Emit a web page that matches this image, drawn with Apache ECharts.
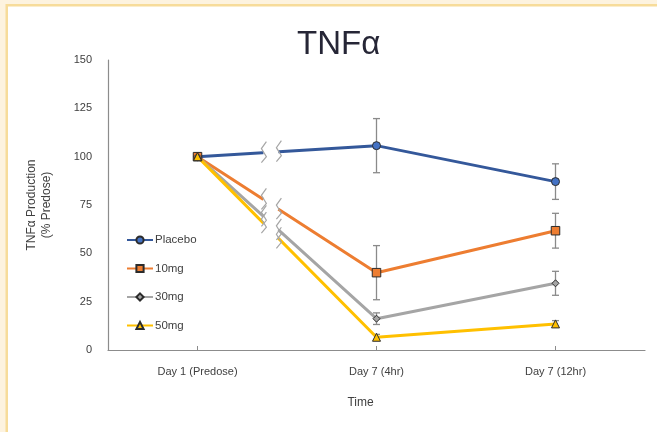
<!DOCTYPE html>
<html>
<head>
<meta charset="utf-8">
<script src="https://cdn.jsdelivr.net/npm/echarts@6/dist/echarts.min.js"></script>
<style>html,body{margin:0;padding:0;background:#fff}#c{width:657px;height:432px}</style>
</head>
<body>
<div id="c"></div>
<script>
const categories = ['Day 1 (Predose)', 'Day 7 (4hr)', 'Day 7 (12hr)'];
const yTicks = [0, 25, 50, 75, 100, 125, 150];
const seriesNames = ['Placebo', '10mg', '30mg', '50mg'];
const placebo = [100, 105.7, 87.1];
const placeboErr = [0, 14, 9.2];
const mg10 = [100, 40.0, 61.7];
const mg10Err = [0, 14, 9];
const mg30 = [100, 16.2, 34.5];
const mg30Err = [0, 3, 6.2];
const mg50 = [100, 6.6, 13.5];
const mg50Err = [0, 1.5, 1.7];

const values = [placebo, mg10, mg30, mg50];
const errs = [placeboErr, mg10Err, mg30Err, mg50Err];
const lineColors = ['#34589a', '#ed7d31', '#a5a5a5', '#ffc000'];
const fillColors = ['#4472c4', '#ed7d31', '#a5a5a5', '#ffc000'];
const symbols = ['circle', 'rect', 'diamond', 'triangle'];
const symbolSizes = [8, 8.5, 7, 8];
const FONT = 'Liberation Sans';

const errData = [];
values.forEach((v, s) => {
  v.forEach((y, i) => {
    if (errs[s][i] > 0) errData.push([i, y - errs[s][i], y + errs[s][i]]);
  });
});

const breakT = 0.41;
function breakPoint(api, s) {
  const v = values[s];
  const p0 = api.coord([0, v[0]]);
  const p1 = api.coord([1, v[1]]);
  return { p0, p1, c: [p0[0] + (p1[0] - p0[0]) * breakT, p0[1] + (p1[1] - p0[1]) * breakT] };
}

const lineSeries = seriesNames.map((name, s) => ({
  name,
  type: 'line',
  data: values[s],
  symbol: symbols[s],
  symbolSize: symbolSizes[s],
  z: 3,
  lineStyle: { color: lineColors[s], width: 3 },
  itemStyle: { color: fillColors[s], borderColor: '#2b2b2b', borderWidth: 1 },
  emphasis: { disabled: true },
  animation: false
}));

const option = {
  animation: false,
  title: {
    text: 'TNFα',
    left: 292,
    top: 23,
    textStyle: { fontFamily: FONT, fontSize: 33, fontWeight: 'normal', color: '#262636' }
  },
  legend: {
    orient: 'vertical',
    left: 121,
    top: 229,
    itemWidth: 26,
    itemHeight: 9,
    itemGap: 16.5,
    data: seriesNames,
    textStyle: { fontFamily: FONT, fontSize: 11.5, color: '#404040', padding: [0, 0, 0, -3] }
  },
  grid: { left: 108, right: 12, top: 60, bottom: 82, containLabel: false },
  xAxis: {
    type: 'category',
    data: categories,
    boundaryGap: true,
    name: 'Time',
    nameLocation: 'middle',
    nameGap: 47,
    nameTextStyle: { fontFamily: FONT, fontSize: 12, color: '#404040', padding: [0, 32, 0, 0] },
    axisLine: { lineStyle: { color: '#8c8c8c', width: 1.2 } },
    axisTick: { show: true, alignWithLabel: true, inside: true, length: 4, lineStyle: { color: '#8c8c8c' } },
    axisLabel: { fontFamily: FONT, fontSize: 11, color: '#404040', margin: 16 },
    splitLine: { show: false }
  },
  yAxis: {
    type: 'value',
    min: 0,
    max: 150,
    interval: 25,
    name: 'TNFα Production\n(% Predose)',
    nameLocation: 'middle',
    nameGap: 54,
    nameTextStyle: { fontFamily: FONT, fontSize: 12, color: '#404040', lineHeight: 15 },
    axisLine: { show: true, lineStyle: { color: '#8c8c8c', width: 1.2 } },
    axisTick: { show: false },
    axisLabel: {
      fontFamily: FONT, fontSize: 11, color: '#404040', margin: 16,
      formatter: v => (yTicks.indexOf(v) >= 0 ? String(v) : '')
    },
    splitLine: { show: false }
  },
  graphic: [
    { type: 'rect', shape: { x: 0, y: 0, width: 657, height: 4 }, style: { fill: '#fdf3df' }, silent: true, z: 100 },
    { type: 'rect', shape: { x: 0, y: 0, width: 6, height: 432 }, style: { fill: '#fdf3df' }, silent: true, z: 100 },
    { type: 'rect', shape: { x: 6, y: 4, width: 651, height: 2.5 }, style: { fill: '#f7dc9a' }, silent: true, z: 100 },
    { type: 'rect', shape: { x: 5.5, y: 4, width: 2.5, height: 428 }, style: { fill: '#f7dc9a' }, silent: true, z: 100 }
  ],
  series: [
    {
      name: 'err',
      type: 'custom',
      z: 2,
      silent: true,
      data: errData,
      renderItem: (params, api) => {
        const x = api.value(0);
        const lo = api.coord([x, api.value(1)]);
        const hi = api.coord([x, api.value(2)]);
        const w = 3.5;
        const st = { stroke: '#8a8a8a', lineWidth: 1.3 };
        return {
          type: 'group',
          children: [
            { type: 'line', shape: { x1: lo[0], y1: lo[1], x2: hi[0], y2: hi[1] }, style: st },
            { type: 'line', shape: { x1: lo[0] - w, y1: lo[1], x2: lo[0] + w, y2: lo[1] }, style: st },
            { type: 'line', shape: { x1: hi[0] - w, y1: hi[1], x2: hi[0] + w, y2: hi[1] }, style: st }
          ]
        };
      }
    },
    ...lineSeries,
    {
      name: 'breakCover',
      type: 'custom',
      z: 4,
      silent: true,
      data: [[0], [1], [2], [3]],
      renderItem: (params, api) => {
        const s = api.value(0);
        const b = breakPoint(api, s);
        const dx = b.p1[0] - b.p0[0], dy = b.p1[1] - b.p0[1];
        const len = Math.sqrt(dx * dx + dy * dy);
        const ux = dx / len, uy = dy / len;
        const nx = -uy, ny = ux;
        const hg = 7.5 / ux, ht = 3.2;
        const c = b.c;
        const pts = [
          [c[0] - ux * hg + nx * ht, c[1] - uy * hg + ny * ht],
          [c[0] + ux * hg + nx * ht, c[1] + uy * hg + ny * ht],
          [c[0] + ux * hg - nx * ht, c[1] + uy * hg - ny * ht],
          [c[0] - ux * hg - nx * ht, c[1] - uy * hg - ny * ht]
        ];
        return { type: 'polygon', shape: { points: pts }, style: { fill: '#ffffff' } };
      }
    },
    {
      name: 'breakMarks',
      type: 'custom',
      z: 5,
      silent: true,
      data: [[0], [1], [2], [3]],
      renderItem: (params, api) => {
        const s = api.value(0);
        const b = breakPoint(api, s);
        const dx = b.p1[0] - b.p0[0], dy = b.p1[1] - b.p0[1];
        const slope = dy / dx;
        const zig = [[3, -11], [-2, -4], [3, 4], [-2, 10]];
        const st = { stroke: '#a6a6a6', lineWidth: 1.2, fill: null };
        const children = [-7.5, 7.5].map(off => {
          const cx = b.c[0] + off, cy = b.c[1] + off * slope;
          return { type: 'polyline', shape: { points: zig.map(p => [cx + p[0], cy + p[1]]) }, style: st };
        });
        return { type: 'group', children };
      }
    }
  ]
};

const chart = echarts.init(document.getElementById('c'), null, { renderer: 'canvas' });
chart.setOption(option);
</script>
</body>
</html>
